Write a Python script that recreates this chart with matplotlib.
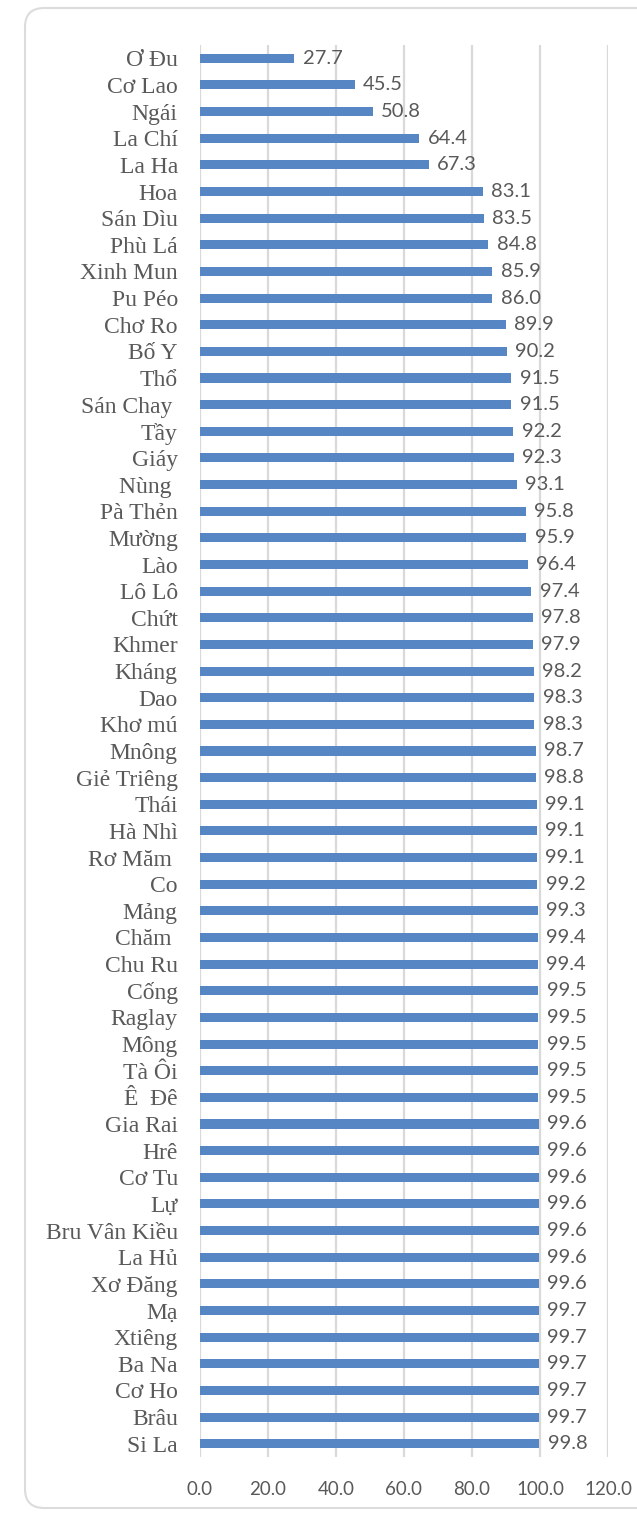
import matplotlib
matplotlib.use("Agg")
import matplotlib.pyplot as plt
from matplotlib.patches import FancyBboxPatch

# Ethnic groups (top to bottom) and their rates (%)
groups = [
    "Ơ Đu", "Cơ Lao", "Ngái", "La Chí", "La Ha", "Hoa", "Sán Dìu", "Phù Lá",
    "Xinh Mun", "Pu Péo", "Chơ Ro", "Bố Y", "Thổ", "Sán Chay ", "Tầy", "Giáy",
    "Nùng ", "Pà Thẻn", "Mường", "Lào", "Lô Lô", "Chứt", "Khmer", "Kháng",
    "Dao", "Khơ mú", "Mnông", "Giẻ Triêng", "Thái", "Hà Nhì", "Rơ Măm ", "Co",
    "Mảng", "Chăm ", "Chu Ru", "Cống", "Raglay", "Mông", "Tà Ôi", "Ê  Đê",
    "Gia Rai", "Hrê", "Cơ Tu", "Lự", "Bru Vân Kiều", "La Hủ", "Xơ Đăng", "Mạ",
    "Xtiêng", "Ba Na", "Cơ Ho", "Brâu", "Si La",
]
rates = [
    27.7, 45.5, 50.8, 64.4, 67.3, 83.1, 83.5, 84.8,
    85.9, 86.0, 89.9, 90.2, 91.5, 91.5, 92.2, 92.3,
    93.1, 95.8, 95.9, 96.4, 97.4, 97.8, 97.9, 98.2,
    98.3, 98.3, 98.7, 98.8, 99.1, 99.1, 99.1, 99.2,
    99.3, 99.4, 99.4, 99.5, 99.5, 99.5, 99.5, 99.5,
    99.6, 99.6, 99.6, 99.6, 99.6, 99.6, 99.6, 99.7,
    99.7, 99.7, 99.7, 99.7, 99.8,
]
x_ticks = [0, 20, 40, 60, 80, 100, 120]

W, H = 637, 1513
fig = plt.figure(figsize=(W / 100, H / 100), dpi=100)
fig.patch.set_facecolor("white")

# Rounded card outline behind the chart
card = FancyBboxPatch((25 / W, 1 - 1508 / H), (700 - 25) / W, (1508 - 8) / H,
                      boxstyle="round,pad=0,rounding_size=0.03",
                      transform=fig.transFigure, facecolor="none",
                      edgecolor="#dcdcdc", linewidth=1.5,
                      mutation_aspect=W / H, zorder=-5)
fig.patches.append(card)

left, right = 200 / W, 608 / W
top, bottom = 1 - 45 / H, 1 - 1457 / H
ax = fig.add_axes([left, bottom, right - left, top - bottom])
ax.set_facecolor("none")
ax.set_zorder(2)

ypos = list(range(len(groups)))
ax.barh(ypos, rates, height=0.34, color="#5686C3", zorder=3)

ax.set_xlim(0, 120)
ax.set_ylim(len(groups) - 0.5, -0.5)
ax.set_xticks(x_ticks)
ax.set_xticklabels([f"{t:.1f}" for t in x_ticks], fontsize=13.5,
                   family="Lato", color="#595959")
ax.set_yticks(ypos)
ax.set_yticklabels(groups, fontsize=17, family="Liberation Serif",
                   color="#595959")
ax.tick_params(axis="both", length=0)
ax.tick_params(axis="x", pad=17)
ax.tick_params(axis="y", pad=16)

ax.grid(axis="x", color="#d9d9d9", linewidth=1.6, zorder=0)
ax.set_axisbelow(True)
for s in ax.spines.values():
    s.set_visible(False)

for y, v in zip(ypos, rates):
    ax.text(v + 2.5, y, f"{v:.1f}", va="center", ha="left", fontsize=14.5,
            family="Lato", color="#595959", zorder=4)

fig.savefig("out.png", dpi=100, facecolor="white")
